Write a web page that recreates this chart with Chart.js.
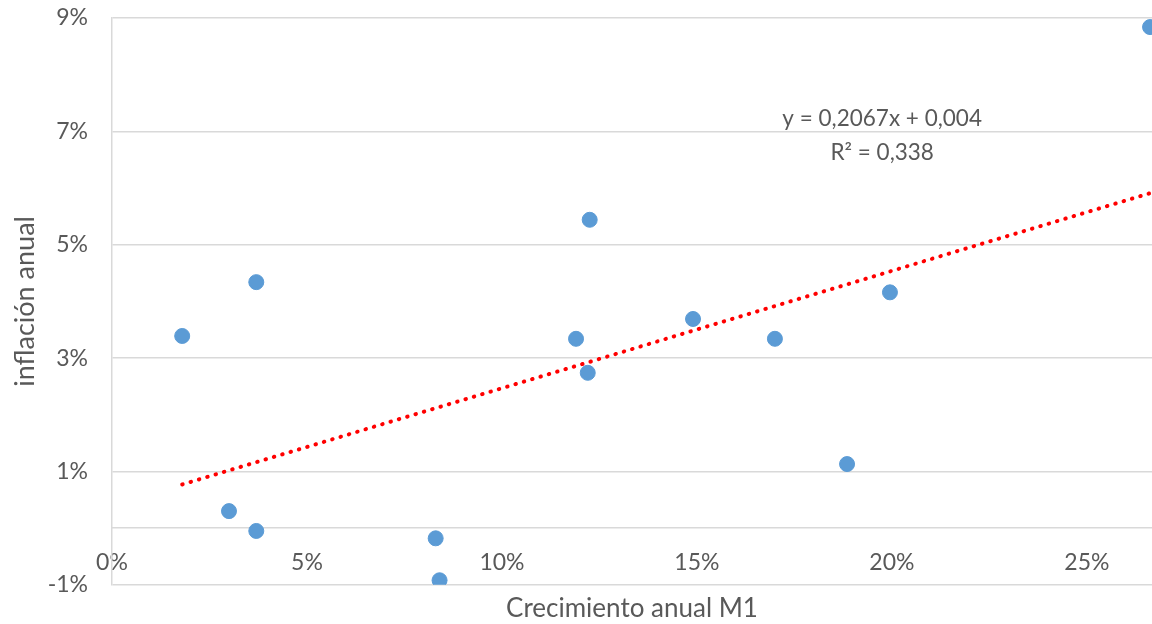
<!DOCTYPE html>
<html lang="es">
  <head>
    <meta charset="UTF-8" />
    <script src="https://cdn.jsdelivr.net/npm/chart.js@4.4.1/dist/chart.umd.min.js"></script>
    <title>Inflación vs M1</title>
    <style>
      html,
      body {
        margin: 0;
        padding: 0;
        background: #ffffff;
      }

      .grafico {
        width: 1152px;
        height: 624px;
        position: relative;
      }
    </style>
  </head>

  <body>
    <div class="grafico">
      <canvas id="myChart"></canvas>
    </div>

    <script>
      // datos (en %)
      const crecimientoM1 = [1.8, 3.0, 3.7, 3.7, 8.3, 8.4, 11.9, 12.2, 12.25, 14.9, 17.0, 18.85, 19.95, 26.62];
      const inflacion = [3.39, 0.3, 4.34, -0.05, -0.18, -0.92, 3.34, 2.74, 5.44, 3.69, 3.34, 1.13, 4.16, 8.84];

      // extremos de la linea de tendencia
      const tendenciaX = [1.8, 26.67];
      const tendenciaY = [0.77, 5.92];

      const ecuacion = ["y = 0,2067x + 0,004", "R² = 0,338"];

      const gris = "#595959";
      const fuente = "Lato";

      const etiquetaEcuacion = {
        id: "etiquetaEcuacion",
        afterDatasetsDraw(chart) {
          const { ctx, scales } = chart;
          const x = scales.x.getPixelForValue(19.75);
          ctx.save();
          ctx.fillStyle = gris;
          ctx.font = "22.5px " + fuente;
          ctx.textAlign = "center";
          ctx.textBaseline = "middle";
          ctx.fillText(ecuacion[0], x, scales.y.getPixelForValue(7.23));
          ctx.fillText(ecuacion[1], x, scales.y.getPixelForValue(6.63));
          ctx.restore();
        },
      };

      const ctx = document.getElementById("myChart");
      new Chart(ctx, {
        type: "scatter",
        data: {
          datasets: [
            {
              label: "tendencia",
              type: "line",
              data: tendenciaX.map((x, i) => ({ x: x, y: tendenciaY[i] })),
              borderColor: "#ff0000",
              borderWidth: 4,
              borderDash: [0.5, 8.2],
              borderCapStyle: "round",
              pointRadius: 0,
              fill: false,
            },
            {
              label: "datos",
              data: crecimientoM1.map((x, i) => ({ x: x, y: inflacion[i] })),
              backgroundColor: "#5b9bd5",
              borderColor: "#5b9bd5",
              pointRadius: 7.5,
              pointHoverRadius: 7.5,
            },
          ],
        },
        plugins: [etiquetaEcuacion],
        options: {
          responsive: true,
          maintainAspectRatio: false,
          animation: false,
          layout: {
            autoPadding: false,
            padding: { top: 18, right: 0, bottom: 0, left: 0 },
          },
          plugins: {
            legend: { display: false },
            tooltip: { enabled: false },
          },
          scales: {
            x: {
              type: "linear",
              position: { y: 0 },
              min: 0,
              max: 26.67,
              grid: { display: false },
              border: { display: true, color: "#d9d9d9", width: 1.5 },
              ticks: {
                stepSize: 5,
                includeBounds: false,
                padding: 13,
                color: gris,
                font: { family: fuente, size: 23 },
                callback: (v) => v + "%",
              },
            },
            x2: {
              type: "linear",
              position: "bottom",
              grid: { display: false, drawTicks: false, tickLength: 0 },
              border: { display: false },
              ticks: { display: false, padding: 0 },
              title: {
                display: true,
                text: "Crecimiento anual M1",
                color: gris,
                font: { family: fuente, size: 26 },
                padding: { top: 8, bottom: 0 },
              },
            },
            y: {
              type: "linear",
              position: "left",
              min: -1,
              max: 9,
              afterFit: (scale) => {
                scale.width = 112;
              },
              grid: {
                color: "#d9d9d9",
                lineWidth: 1.5,
                drawTicks: true,
                tickLength: 24,
                tickColor: "rgba(0,0,0,0)",
              },
              border: { display: true, color: "#d9d9d9", width: 1.5 },
              ticks: {
                stepSize: 2,
                padding: 0,
                color: gris,
                font: { family: fuente, size: 23 },
                callback: (v) => v + "%",
              },
              title: {
                display: true,
                text: "inflación anual",
                color: gris,
                font: { family: fuente, size: 27 },
                padding: { top: 9, bottom: 0 },
              },
            },
          },
        },
      });
    </script>
  </body>
</html>
